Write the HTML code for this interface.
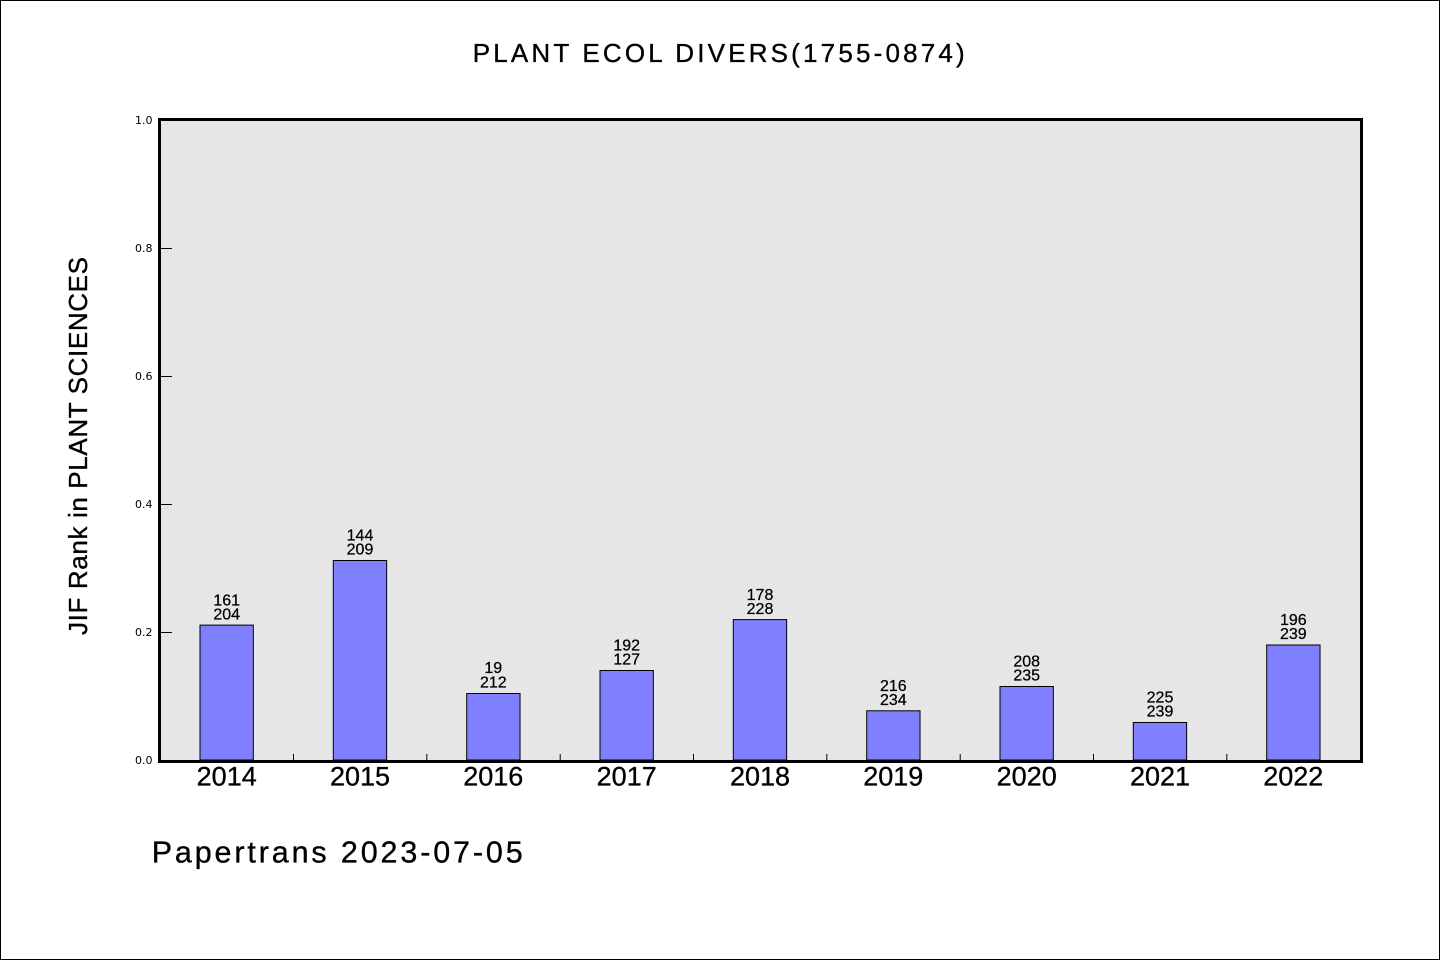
<!DOCTYPE html>
<html>
<head>
<meta charset="utf-8">
<style>
  html, body { margin:0; padding:0; background:#fff; }
  svg { display:block; }
  .h { font-family: "Liberation Sans", sans-serif; fill:#000; stroke:#000; stroke-width:0.35px; }
  .t { font-family: "DejaVu Sans", "Liberation Sans", sans-serif; font-size:11px; fill:#000; }
</style>
</head>
<body>
<svg width="1440" height="960" viewBox="0 0 1440 960" xmlns="http://www.w3.org/2000/svg">
  <rect x="0" y="0" width="1440" height="960" fill="#ffffff"/>
  <rect x="0.5" y="0.5" width="1439" height="959" fill="none" stroke="#000" stroke-width="1"/>

  <!-- title -->
  <text class="h" font-size="26" x="472.7" y="62" textLength="492" lengthAdjust="spacing">PLANT ECOL DIVERS(1755-0874)</text>

  <!-- plot background -->
  <rect x="160" y="120" width="1200" height="640" fill="#e6e6e6"/>

  <!-- bars -->
  <g fill="#8080ff" stroke="#000" stroke-width="1">
    <rect x="200.0" y="625.1" width="53.33" height="134.9"/>
    <rect x="333.3" y="560.5" width="53.33" height="199.5"/>
    <rect x="466.7" y="693.5" width="53.33" height="66.5"/>
    <rect x="600.0" y="670.5" width="53.33" height="89.5"/>
    <rect x="733.3" y="619.6" width="53.33" height="140.4"/>
    <rect x="866.7" y="710.8" width="53.33" height="49.2"/>
    <rect x="1000.0" y="686.5" width="53.33" height="73.5"/>
    <rect x="1133.3" y="722.5" width="53.33" height="37.5"/>
    <rect x="1266.7" y="645.0" width="53.33" height="115.0"/>
  </g>

  <!-- bar labels -->
  <g class="h" font-size="16" text-anchor="middle" style="stroke-width:0.25px">
    <text x="226.7" y="605.3">161</text>
    <text x="226.7" y="619.3">204</text>
    <text x="360.0" y="540.7">144</text>
    <text x="360.0" y="554.7">209</text>
    <text x="493.3" y="673.2">19</text>
    <text x="493.3" y="687.5">212</text>
    <text x="626.7" y="650.7">192</text>
    <text x="626.7" y="664.7">127</text>
    <text x="760.0" y="599.8">178</text>
    <text x="760.0" y="613.8">228</text>
    <text x="893.3" y="691.0">216</text>
    <text x="893.3" y="705.0">234</text>
    <text x="1026.7" y="666.7">208</text>
    <text x="1026.7" y="680.7">235</text>
    <text x="1160.0" y="702.7">225</text>
    <text x="1160.0" y="716.7">239</text>
    <text x="1293.3" y="625.2">196</text>
    <text x="1293.3" y="639.2">239</text>
  </g>

  <!-- y ticks (inward) -->
  <g stroke="#000" stroke-width="1">
    <line x1="160" y1="632.5" x2="172" y2="632.5"/>
    <line x1="160" y1="504.5" x2="172" y2="504.5"/>
    <line x1="160" y1="376.5" x2="172" y2="376.5"/>
    <line x1="160" y1="248.5" x2="172" y2="248.5"/>
  </g>
  <!-- x minor ticks -->
  <g stroke="#000" stroke-width="1">
    <line x1="293.5" y1="754" x2="293.5" y2="760"/>
    <line x1="426.8" y1="754" x2="426.8" y2="760"/>
    <line x1="560.2" y1="754" x2="560.2" y2="760"/>
    <line x1="693.5" y1="754" x2="693.5" y2="760"/>
    <line x1="826.8" y1="754" x2="826.8" y2="760"/>
    <line x1="960.2" y1="754" x2="960.2" y2="760"/>
    <line x1="1093.5" y1="754" x2="1093.5" y2="760"/>
    <line x1="1226.8" y1="754" x2="1226.8" y2="760"/>
  </g>

  <!-- frame -->
  <rect x="159.5" y="119.5" width="1202" height="642" fill="none" stroke="#000" stroke-width="3"/>

  <!-- y tick labels -->
  <g class="t" text-anchor="end">
    <text x="152.5" y="764">0.0</text>
    <text x="152.5" y="636">0.2</text>
    <text x="152.5" y="508">0.4</text>
    <text x="152.5" y="380">0.6</text>
    <text x="152.5" y="252">0.8</text>
    <text x="152.5" y="124">1.0</text>
  </g>

  <!-- x tick labels -->
  <g class="h" font-size="27" text-anchor="middle">
    <text x="226.7" y="785.5">2014</text>
    <text x="360.0" y="785.5">2015</text>
    <text x="493.3" y="785.5">2016</text>
    <text x="626.7" y="785.5">2017</text>
    <text x="760.0" y="785.5">2018</text>
    <text x="893.3" y="785.5">2019</text>
    <text x="1026.7" y="785.5">2020</text>
    <text x="1160.0" y="785.5">2021</text>
    <text x="1293.3" y="785.5">2022</text>
  </g>

  <!-- y axis label -->
  <text class="h" font-size="26" text-anchor="middle" transform="translate(87,446) rotate(-90)" textLength="378" lengthAdjust="spacing">JIF Rank in PLANT SCIENCES</text>

  <!-- footer -->
  <text class="h" font-size="30.5" x="151.7" y="862.5" textLength="371" lengthAdjust="spacing">Papertrans 2023-07-05</text>
</svg>
</body>
</html>
